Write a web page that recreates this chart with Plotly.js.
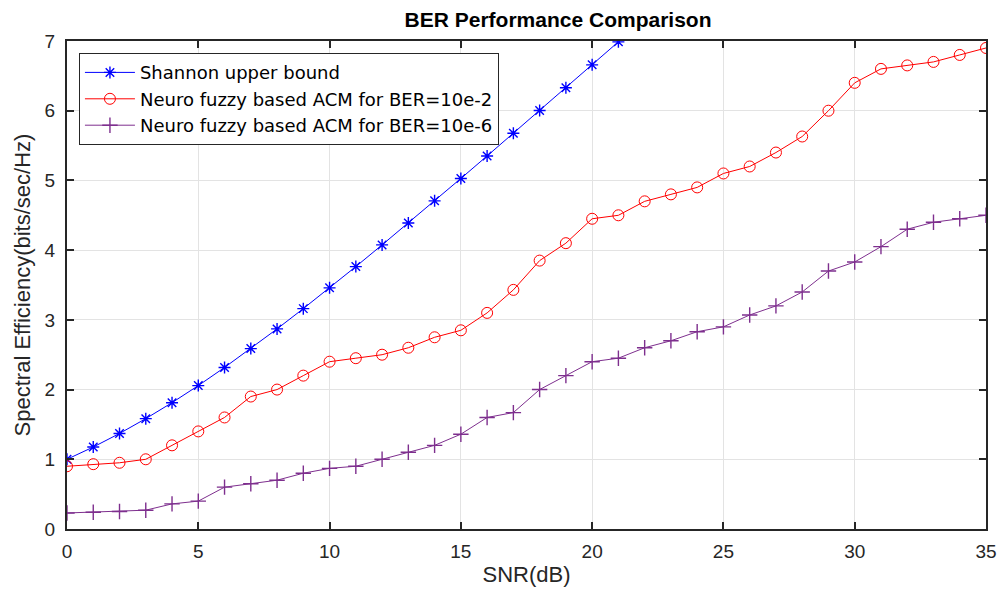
<!DOCTYPE html>
<html>
<head>
<meta charset="utf-8">
<script src="https://cdn.plot.ly/plotly-3.0.1.min.js"></script>
<style>html,body{margin:0;padding:0;background:#fff;}#chart{width:999px;height:590px;}</style>
</head>
<body>
<div id="chart"></div>
<script>
const snrShannon = [0,1,2,3,4,5,6,7,8,9,10,11,12,13,14,15,16,17,18,19,20,21];
const shannon = [1.000,1.176,1.370,1.583,1.812,2.057,2.317,2.588,2.870,3.161,3.459,3.764,4.075,4.389,4.707,5.028,5.351,5.676,6.002,6.330,6.658,6.988];

const snr = [0,1,2,3,4,5,6,7,8,9,10,11,12,13,14,15,16,17,18,19,20,21,22,23,24,25,26,27,28,29,30,31,32,33,34,35];
const ber2 = [0.9,0.93,0.95,1.0,1.2,1.4,1.6,1.9,2.0,2.2,2.4,2.45,2.5,2.6,2.75,2.85,3.1,3.43,3.85,4.1,4.45,4.5,4.7,4.8,4.9,5.1,5.2,5.4,5.63,6.0,6.4,6.6,6.65,6.7,6.8,6.9];
const ber6 = [0.23,0.24,0.25,0.27,0.36,0.4,0.6,0.65,0.7,0.8,0.87,0.9,1.0,1.1,1.2,1.36,1.6,1.67,2.0,2.2,2.4,2.45,2.6,2.7,2.83,2.9,3.07,3.2,3.4,3.7,3.83,4.05,4.3,4.4,4.45,4.5];

const names = ['Shannon upper bound','Neuro fuzzy based ACM for BER=10e-2','Neuro fuzzy based ACM for BER=10e-6'];
const xTicks = [0,5,10,15,20,25,30,35];
const yTicks = [0,1,2,3,4,5,6,7];

const FONT = 'Liberation Sans, Arial, Helvetica, sans-serif';
const LEGEND_FONT = 'DejaVu Sans, Verdana, sans-serif';

const traces = [
  {x: snrShannon, y: shannon, name: names[0], mode: 'lines+markers', cliponaxis: true,
   line: {color: '#0000ff', width: 1}, marker: {symbol: 'asterisk-open', size: 10, color: '#0000ff', line: {color: '#0000ff', width: 1.4}}},
  {x: snr, y: ber2, name: names[1], mode: 'lines+markers', cliponaxis: true,
   line: {color: '#ff0000', width: 1}, marker: {symbol: 'circle-open', size: 11, color: '#ff0000', line: {color: '#ff0000', width: 1}}},
  {x: snr, y: ber6, name: names[2], mode: 'lines+markers', cliponaxis: true,
   line: {color: '#7e2f8e', width: 1}, marker: {symbol: 'cross-thin-open', size: 11, color: '#7e2f8e', line: {color: '#7e2f8e', width: 1.4}}}
];

const axisCommon = {
  showline: true, linecolor: '#262626', linewidth: 2, mirror: 'ticks',
  ticks: 'inside', ticklen: 7, tickwidth: 2, tickcolor: '#262626',
  showgrid: true, gridcolor: '#e3e3e3', gridwidth: 1, zeroline: false,
  tickfont: {family: FONT, size: 19, color: '#262626'}
};

const layout = {
  width: 999, height: 590,
  margin: {l: 67, r: 13, t: 41, b: 61},
  paper_bgcolor: '#ffffff', plot_bgcolor: '#ffffff',
  title: {text: '<b>BER Performance Comparison</b>', x: 0.5586, xanchor: 'center', y: 0.966, yanchor: 'middle',
          font: {family: FONT, size: 21, color: '#000'}},
  xaxis: Object.assign({}, axisCommon, {range: [0, 35], tickvals: xTicks, ticklabelstandoff: 4,
    title: {text: 'SNR(dB)', standoff: 6, font: {family: FONT, size: 22, color: '#262626'}}}),
  yaxis: Object.assign({}, axisCommon, {range: [0, 7], tickvals: yTicks, ticklabelstandoff: 6,
    title: {text: 'Spectral Efficiency(bits/sec/Hz)', standoff: 8, font: {family: FONT, size: 22, color: '#262626'}}}),
  showlegend: true,
  legend: {x: 0.013, y: 0.975, xanchor: 'left', yanchor: 'top', bgcolor: '#ffffff', bordercolor: '#262626', borderwidth: 1,
           itemwidth: 50, tracegroupgap: 0,
           font: {family: LEGEND_FONT, size: 18, color: '#000'}}
};

Plotly.newPlot('chart', traces, layout, {displayModeBar: false, staticPlot: true});
</script>
</body>
</html>
